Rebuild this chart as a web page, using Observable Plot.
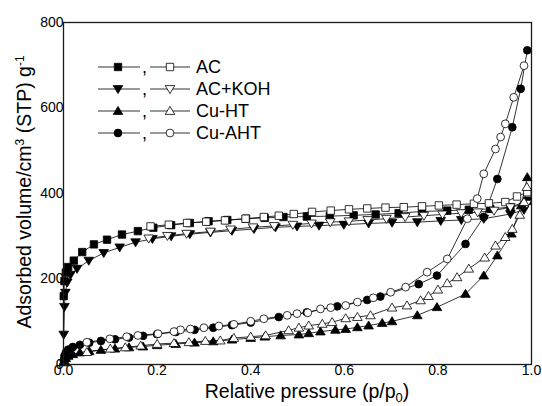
<!DOCTYPE html>
<html><head><meta charset="utf-8">
<script src="https://cdn.jsdelivr.net/npm/d3@7"></script>
<script src="https://cdn.jsdelivr.net/npm/@observablehq/plot@0.6"></script>
<style>
html,body{margin:0;padding:0;background:#fff;}
#chart{width:542px;height:406px;}
</style></head><body><div id="chart"></div>
<script>
// ---- data ----
const samples = ["AC", "AC+KOH", "Cu-HT", "Cu-AHT"];
const xTicks = [0, 0.2, 0.4, 0.6, 0.8, 1.0];
const yTicks = [0, 200, 400, 600, 800];

// AC (squares)
const acAdsP = [0.0005,0.002,0.005,0.01,0.022,0.04,0.065,0.093,0.125,0.159,0.192,0.23,0.27,0.31,0.35,0.39,0.43,0.47,0.52,0.569,0.62,0.667,0.716,0.766,0.82,0.866,0.912,0.955,0.991];
const acAdsV = [160,195,215,228,243,263,281,292,304,312,320,326,331,335,338,341,343,345,346,347,349,351,354,358,360,362,364,368,383];
const acDesP = [0.991,0.969,0.944,0.909,0.877,0.84,0.802,0.766,0.727,0.688,0.649,0.61,0.571,0.531,0.492,0.46,0.428,0.389,0.345,0.305,0.264,0.225,0.186];
const acDesV = [403,393,380,377,376,374,372,370,368,367,365,363,360,357,352,348,345,341,337,334,331,327,323];

// AC+KOH (down triangles)
const kohAdsP = [0.0005,0.002,0.004,0.008,0.015,0.029,0.054,0.086,0.12,0.154,0.19,0.23,0.27,0.314,0.36,0.407,0.453,0.499,0.546,0.599,0.652,0.702,0.756,0.806,0.85,0.898,0.955,0.984];
const kohAdsV = [70,135,168,192,210,224,243,261,274,286,294,300,305,309,313,317,321,323,325,327,330,332,333,336,338,341,352,362];
const kohDesP = [0.99,0.955,0.92,0.885,0.85,0.81,0.77,0.73,0.69,0.65,0.61,0.57,0.53,0.49,0.45,0.405,0.357,0.314,0.263,0.222,0.182];
const kohDesV = [376,368,360,356,354,351,348,345,341,338,335,333,330,327,324,321,316,311,306,301,295];

// Cu-HT (up triangles)
const htAdsP = [0.0005,0.002,0.005,0.01,0.02,0.035,0.055,0.08,0.11,0.14,0.17,0.2,0.24,0.28,0.32,0.36,0.40,0.43,0.464,0.503,0.524,0.549,0.581,0.603,0.628,0.652,0.681,0.702,0.756,0.798,0.859,0.898,0.927,0.957,0.978,0.991];
const htAdsV = [5,10,15,20,24,28,31,34,37,40,42,45,48,51,54,58,62,65,68,70,73,77,81,83,87,91,97,101,115,134,165,208,255,306,372,438];
const htDesP = [0.99,0.984,0.975,0.959,0.944,0.923,0.9,0.866,0.841,0.82,0.8,0.78,0.763,0.734,0.702,0.656,0.628,0.603,0.574,0.553,0.524,0.503,0.481,0.432,0.40,0.364,0.335,0.303,0.268,0.236,0.2,0.165,0.132,0.1,0.05];
const htDesV = [415,380,350,317,298,278,250,224,204,190,175,160,150,138,133,115,111,108,99,95,91,86,80,68,65,62,56,55,52,50,48,44,40,37,29];

// Cu-AHT (circles)
const ahtAdsP = [0.0005,0.002,0.005,0.01,0.02,0.035,0.055,0.08,0.11,0.14,0.17,0.2,0.24,0.28,0.32,0.36,0.40,0.46,0.52,0.585,0.649,0.677,0.759,0.798,0.859,0.898,0.927,0.959,0.977,0.991];
const ahtAdsV = [10,20,28,35,41,46,51,55,59,63,67,71,76,81,86,92,98,111,122,136,151,159,188,208,282,345,434,555,645,735];
const ahtDesP = [0.984,0.962,0.944,0.934,0.923,0.898,0.884,0.863,0.82,0.777,0.731,0.699,0.662,0.628,0.603,0.571,0.549,0.522,0.499,0.478,0.428,0.4,0.364,0.332,0.3,0.271,0.25,0.236,0.202,0.159,0.135,0.099,0.05];
const ahtDesV = [699,625,563,532,504,446,388,341,247,216,181,169,156,146,138,133,130,121,119,115,107,101,94,90,86,83,81,77,72,68,65,60,52];

// ---- symbols ----
function sym(fn){ return {draw(ctx, size){ fn(ctx, Math.sqrt(size / Math.PI)); }}; }
const squareSym = sym((c,r)=>{ c.rect(-r,-r,2*r,2*r); });
const circleSym = sym((c,r)=>{ c.moveTo(r,0); c.arc(0,0,r,0,2*Math.PI); c.closePath(); });
const triUpSym = sym((c,r)=>{ c.moveTo(0,-1.15*r); c.lineTo(1.2*r,0.85*r); c.lineTo(-1.2*r,0.85*r); c.closePath(); });
const triDownSym = sym((c,r)=>{ c.moveTo(0,1.15*r); c.lineTo(1.2*r,-0.85*r); c.lineTo(-1.2*r,-0.85*r); c.closePath(); });

const symbols = [squareSym, triDownSym, triUpSym, circleSym];
const radii = [3.7, 4, 4, 3.9];

function rows(P, V){ return P.map((p,i)=>({p, v: V[i]})); }
const series = [
  {s:0, filled:true,  data: rows(acAdsP, acAdsV)},
  {s:1, filled:true,  data: rows(kohAdsP, kohAdsV)},
  {s:2, filled:true,  data: rows(htAdsP, htAdsV)},
  {s:3, filled:true,  data: rows(ahtAdsP, ahtAdsV)},
  {s:0, filled:false, data: rows(acDesP, acDesV)},
  {s:1, filled:false, data: rows(kohDesP, kohDesV)},
  {s:2, filled:false, data: rows(htDesP, htDesV)},
  {s:3, filled:false, data: rows(ahtDesP, ahtDesV)}
];

const FONT = "'Liberation Sans', Arial, Helvetica, sans-serif";

const marks = [
  Plot.axisX({ticks: xTicks, tickSize: 0, tickPadding: 1, tickFormat: d3.format(".1f"), label: null}),
  Plot.axisY({ticks: yTicks, tickSize: 0, tickPadding: 0, label: null})
];
series.forEach(d => marks.push(Plot.line(d.data, {x: "p", y: "v", stroke: "#000", strokeWidth: 0.8})));
series.forEach(d => marks.push(Plot.dot(d.data, {
  x: "p", y: "v", symbol: symbols[d.s], r: radii[d.s],
  fill: d.filled ? "#000" : "#fff", stroke: "#000", strokeWidth: 0.8
})));
marks.push(Plot.frame({stroke: "#1a1a1a", strokeWidth: 1.3}));

const plot = Plot.plot({
  width: 542, height: 406,
  marginLeft: 63, marginRight: 11, marginTop: 22, marginBottom: 42,
  style: {fontFamily: FONT, fontSize: "14px", background: "#fff", color: "#000", overflow: "visible"},
  x: {domain: [0, 1]},
  y: {domain: [0, 800]},
  marks
});
document.getElementById("chart").appendChild(plot);

// ---- axis titles ----
const svg = d3.select(plot);
const xt = svg.append("text").attr("x", 307).attr("y", 398).attr("text-anchor", "middle")
  .attr("font-family", FONT).attr("font-size", 19.5).attr("fill", "#000");
xt.append("tspan").text("Relative pressure (p/p");
xt.append("tspan").attr("dy", 4).attr("font-size", 13).text("0");
xt.append("tspan").attr("dy", -4).text(")");

const yt = svg.append("text").attr("transform", "translate(31,192) rotate(-90)").attr("text-anchor", "middle")
  .attr("font-family", FONT).attr("font-size", 19.5).attr("fill", "#000");
yt.append("tspan").text("Adsorbed volume/cm");
yt.append("tspan").attr("dy", -7).attr("font-size", 12).text("3");
yt.append("tspan").attr("dy", 7).text(" (STP) g");
yt.append("tspan").attr("dy", -7).attr("font-size", 12).text("-1");

// ---- legend ----
const leg = svg.append("g").attr("text-anchor", "start");
samples.forEach((name, i) => {
  const y = 67 + i * 22;
  const g = leg.append("g");
  [[98,140,118,true],[150,190,170,false]].forEach(([x1,x2,xm,filled]) => {
    g.append("line").attr("x1", x1).attr("x2", x2).attr("y1", y).attr("y2", y)
      .attr("stroke", "#000").attr("stroke-width", 0.8);
    const p = d3.path();
    const r = radii[i];
    symbols[i].draw(p, r * r * Math.PI);
    g.append("path").attr("d", p.toString()).attr("transform", `translate(${xm},${y})`)
      .attr("fill", filled ? "#000" : "#fff").attr("stroke", "#000").attr("stroke-width", 0.8);
  });
  g.append("text").attr("x", 142).attr("y", y + 6).attr("text-anchor", "start")
    .attr("font-family", FONT).attr("font-size", 18).text(",");
  g.append("text").attr("x", 196).attr("y", y).attr("dy", "0.35em").attr("text-anchor", "start")
    .attr("font-family", FONT).attr("font-size", 18).text(name);
});
</script></body></html>
